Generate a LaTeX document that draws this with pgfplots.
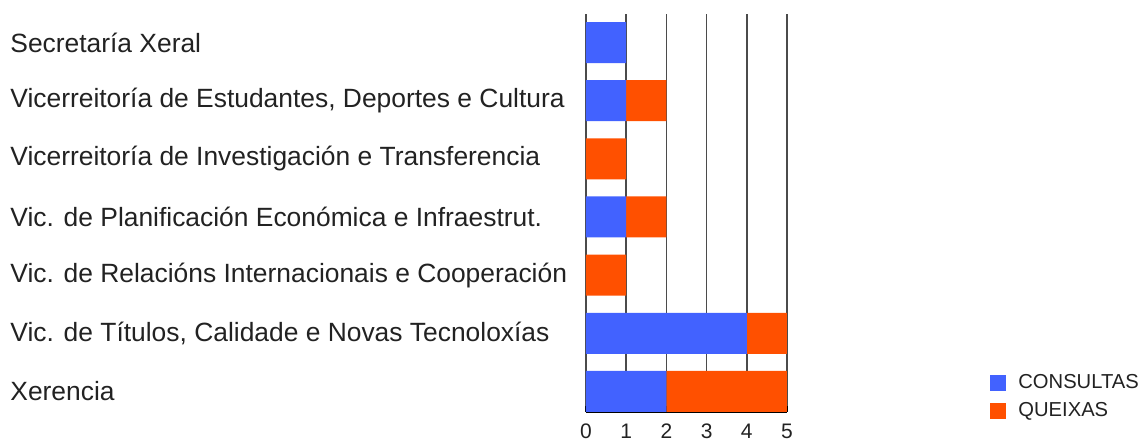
\documentclass[border=0pt]{standalone}
\usepackage{pgfplots}
\pgfplotsset{compat=1.18}
\usepackage{fontspec}
\setmainfont{Liberation Sans}
\definecolor{consultas}{RGB}{66,98,255}
\definecolor{queixas}{RGB}{255,80,0}
\definecolor{gridgray}{RGB}{75,75,75}
\definecolor{txt}{RGB}{34,34,34}
\begin{document}
\begin{tikzpicture}
\begin{axis}[
  at={(293pt,14.5pt)}, anchor=south west,
  scale only axis, width=100.5pt, height=199pt,
  xbar stacked, bar width=20.5pt,
  xmin=0, xmax=5, ymin=-0.353, ymax=6.49,
  xtick={0,1,2,3,4,5}, ytick={0,...,6},
  yticklabels={Xerencia,
    {Vic. de Títulos, Calidade e Novas Tecnoloxías},
    {Vic. de Relacións Internacionais e Cooperación},
    {Vic. de Planificación Económica e Infraestrut.},
    {Vicerreitoría de Investigación e Transferencia},
    {Vicerreitoría de Estudantes, Deportes e Cultura},
    {Secretaría Xeral}},
  axis x line*=bottom, axis y line*=left,
  y axis line style={draw=none},
  x axis line style={black, line width=0.8pt},
  xmajorgrids, grid style={gridgray, line width=0.8pt},
  major tick length=3pt,
  ytick style={draw=none},
  xtick style={black, line width=0.6pt},
  yticklabel style={anchor=west, inner sep=0pt, xshift=-288pt, font=\fontsize{13.2}{16}\selectfont, text=txt},
  xticklabel style={font=\fontsize{10.5}{12}\selectfont, text=txt, yshift=-2.5pt},
  /pgf/number format/assume math mode=true,
  legend style={at={(axis description cs:2.01,0.105)}, anchor=north west, draw=none, fill=none,
    inner sep=0pt, font=\fontsize{10.1}{12}\selectfont, text=txt, row sep=1.5pt,
    /tikz/every odd column/.append style={column sep=4pt}},
  legend cell align=left,
  legend image code/.code={\fill[#1] (0pt,-4pt) rectangle (8pt,4pt);},
]
\addplot[fill=consultas, draw=none] coordinates {(2,0) (4,1) (0,2) (1,3) (0,4) (1,5) (1,6)};
\addlegendentry{CONSULTAS}
\addplot[fill=queixas, draw=none] coordinates {(3,0) (1,1) (1,2) (1,3) (1,4) (1,5) (0,6)};
\addlegendentry{QUEIXAS}
\end{axis}
\pgfresetboundingbox
\path[use as bounding box] (0,0) rectangle (573.5pt,220.5pt);
\end{tikzpicture}
\end{document}
